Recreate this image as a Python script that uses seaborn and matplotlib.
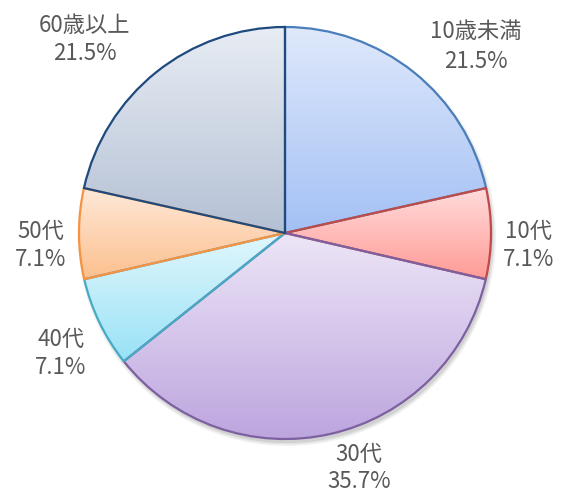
import numpy as np
import matplotlib
matplotlib.use("Agg")
import matplotlib.pyplot as plt
import seaborn as sns
from matplotlib.colors import LinearSegmentedColormap
from matplotlib.patches import Circle

categories = ["10歳未満", "10代", "30代", "40代", "50代", "60歳以上"]
shares = [21.5, 7.1, 35.7, 7.1, 7.1, 21.5]
pct_labels = ["21.5%", "7.1%", "35.7%", "7.1%", "7.1%", "21.5%"]

top_colors = ["#dfe9fb", "#ffdcdc", "#ede6f7", "#e2f7fd", "#ffe9d9", "#e8edf4"]
bottom_colors = ["#a3c0f5", "#ff9b96", "#bca4de", "#98e2f6", "#fcc08e", "#b4c0d4"]
edge_colors = ["#4a7ebb", "#be4b48", "#7d60a0", "#46aac5", "#f69240", "#1f4a7e"]

# label anchor positions in pixel coords (x, y from top) and line gap
label_pos = [(476, 32), (529, 231), (359, 454), (61, 339), (41, 231), (85, 25)]
line_gaps = [29, 29, 27, 28, 28, 29]

sns.set_theme(style="white")
plt.rcParams["font.family"] = ["Noto Sans CJK JP", "DejaVu Sans"]

W, H = 561, 492
fig = plt.figure(figsize=(W / 100, H / 100), dpi=100)
ax = fig.add_axes([0, 0, 1, 1])

cx, cy, r = 285, H - 233, 206

# soft shadow
for i, a in enumerate([0.05, 0.06, 0.08]):
    ax.add_patch(Circle((cx + 2, cy - 4), r + 3 - i * 1.5, color="#000000", alpha=a, lw=0, zorder=0))

wedges, _ = ax.pie(shares, startangle=90, counterclock=False, center=(cx, cy), radius=r,
                   colors=["none"] * len(shares), frame=True,
                   wedgeprops=dict(linewidth=1.6, joinstyle="miter"))

for w, c0, c1, ec in zip(wedges, top_colors, bottom_colors, edge_colors):
    w.set_edgecolor(ec)
    w.set_facecolor("none")
    w.set_zorder(3)
    verts = w.get_path().vertices
    x0, y0 = verts.min(axis=0)
    x1, y1 = verts.max(axis=0)
    cmap = LinearSegmentedColormap.from_list("g", [c0, c1])
    grad = np.linspace(0, 1, 256).reshape(-1, 1)
    im = ax.imshow(grad, cmap=cmap, extent=(x0, x1, y0, y1), origin="upper",
                   aspect="auto", zorder=2, interpolation="bilinear")
    im.set_clip_path(w)

for name, pct, (lx, ly), gap in zip(categories, pct_labels, label_pos, line_gaps):
    ax.text(lx, H - ly, name, ha="center", va="center", fontsize=16, color="#595959")
    ax.text(lx, H - ly - gap, pct, ha="center", va="center", fontsize=16, color="#595959")

ax.set_xlim(0, W)
ax.set_ylim(0, H)
ax.axis("off")
fig.savefig("out.png", dpi=100, facecolor="white")
